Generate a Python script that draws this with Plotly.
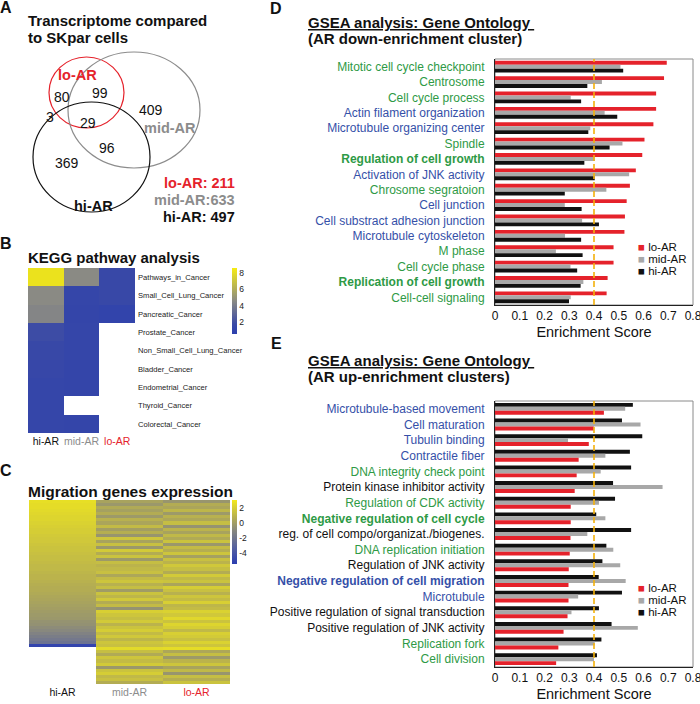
import plotly.graph_objects as go

W, H = 700, 704
FONT = "Liberation Sans, Arial, sans-serif"
RED = "#e5222b"
GRAY = "#a8a8a8"
BLACK = "#111111"
GREEN = "#2e9a45"
BLUE = "#3550a8"
LGRAY = "#8c8c8c"

# ---------------- Panel A: Venn counts ----------------
venn_regions = ["lo_only", "lo_mid", "mid_only", "lo_hi", "lo_mid_hi", "mid_hi", "hi_only"]
venn_counts = [80, 99, 409, 3, 29, 96, 369]
venn_sets = ["lo-AR", "mid-AR", "hi-AR"]

# ---------------- Panel B: KEGG heatmap ----------------
kegg_pathways = ["Pathways_in_Cancer", "Small_Cell_Lung_Cancer", "Pancreatic_Cancer",
                 "Prostate_Cancer", "Non_Small_Cell_Lung_Cancer", "Bladder_Cancer",
                 "Endometrial_Cancer", "Thyroid_Cancer", "Colorectal_Cancer"]
kegg_hi = [8.2, 4.6, 4.4, 1.9, 1.6, 1.5, 1.4, 1.4, 1.4]
kegg_mid = [4.6, 1.4, 1.3, 1.4, 1.4, 1.3, 1.3, None, 1.3]
kegg_lo = [1.6, 1.6, 1.1, None, None, None, None, None, None]
kegg_ticks = [2, 4, 6, 8]

# ---------------- Panel C: migration genes heatmap ----------------
mig_hi = [2.6, 2.5, 2.5, 2.4, 2.3, 2.2, 2.2, 2.1, 2.0, 1.9, 1.9, 1.8,
          1.7, 1.7, 1.6, 1.5, 1.5, 1.4, 1.3, 1.3, 1.2, 1.1, 1.1, 1.0,
          0.9, 0.9, 0.8, 0.7, 0.6, 0.6, 0.5, 0.4, 0.3, 0.2, 0.1, 0.0,
          -0.1, -0.2, -0.3, -0.5, -0.6, -0.8, -1.0, -1.3, -1.6, -1.9, -2.2, -5.0,
          None, None, None, None, None, None, None, None, None, None, None, None]
mig_mid = [0.2, -0.3, 0.5, 0.1, 0.6, -0.2, 0.8, 0.3, 1.2, 0.0, 0.7, -0.4,
           1.6, 0.2, 1.4, -0.3, 1.8, 0.6, 1.5, -0.2, 1.3, 0.9,
           1.1, 1.4, 0.4, 1.2, 1.6, 0.8, 1.3, -0.1, 1.5, 1.0, 1.7, 0.6, 1.2,
           -0.5, 2.0, 1.6, 1.3, 1.8, 0.9, 1.5, 1.9, 1.2, 1.7, 1.0, 1.6, 1.4,
           2.4, 1.3, 0.5, 1.6, 1.2, 1.8, -0.3, 1.5, 1.9, 1.1, 1.4, 0.6]
mig_lo = [-0.4, 0.6, 0.3, 1.0, -0.2, 0.8, 0.4, 1.3, -0.5, 0.9, 0.2, 1.1,
          0.5, 1.5, -0.3, 1.2, 0.7, 1.6, 0.1, 1.4, 0.9, 1.7,
          1.3, 0.6, 1.8, 1.1, 1.5, 0.3, 1.9, 1.4, 0.8, 1.6, 1.2, 2.0, 1.0,
          1.2, 2.1, 1.7, 2.3, 1.5, 2.2, 1.9, 1.1, 2.0, 1.8, 1.4, 2.1, 1.6,
          2.5, 0.4, 1.3, -0.2, 0.9, 1.6, 0.2, 1.1, -0.4, 1.3, 0.7, 1.5]
mig_ticks = [2, 0, -2, -4]

# ---------------- Panel D: GSEA down-enrichment ----------------
d_terms = ["Mitotic cell cycle checkpoint", "Centrosome", "Cell cycle process",
           "Actin filament organization", "Microtubule organizing center", "Spindle",
           "Regulation of cell growth", "Activation of JNK activity", "Chrosome segratoion",
           "Cell junction", "Cell substract adhesion junction", "Microtubule cytoskeleton",
           "M phase", "Cell cycle phase", "Replication of cell growth", "Cell-cell signaling"]
d_lo = [0.694, 0.683, 0.651, 0.651, 0.640, 0.604, 0.595, 0.569, 0.545, 0.532,
        0.525, 0.523, 0.479, 0.479, 0.455, 0.451]
d_mid = [0.507, 0.432, 0.306, 0.443, 0.385, 0.515, 0.403, 0.542, 0.450, 0.282,
         0.352, 0.283, 0.246, 0.305, 0.357, 0.306]
d_hi = [0.518, 0.373, 0.348, 0.494, 0.377, 0.463, 0.361, 0.403, 0.282, 0.350,
        0.420, 0.348, 0.354, 0.332, 0.346, 0.299]
d_colors = ["g", "g", "g", "b", "b", "g", "g", "b", "g", "b", "b", "b", "g", "g", "g", "g"]
d_bold = [0, 0, 0, 0, 0, 0, 1, 0, 0, 0, 0, 0, 0, 0, 1, 0]

# ---------------- Panel E: GSEA up-enrichment ----------------
e_terms = ["Microtubule-based movement", "Cell maturation", "Tubulin binding",
           "Contractile fiber", "DNA integrity check point", "Protein kinase inhibitor activity",
           "Regulation of CDK activity", "Negative regulation of cell cycle",
           "reg. of cell compo/organizat./biogenes.", "DNA replication initiation",
           "Regulation of JNK activity", "Negative regulation of cell migration", "Microtubule",
           "Positive regulation of signal transduction", "Positive regulation of JNK activity",
           "Replication fork", "Cell division"]
e_hi = [0.557, 0.513, 0.595, 0.545, 0.550, 0.477, 0.485, 0.409, 0.550, 0.450,
        0.434, 0.419, 0.513, 0.420, 0.471, 0.430, 0.412]
e_mid = [0.526, 0.588, 0.295, 0.446, 0.427, 0.677, 0.420, 0.446, 0.373, 0.478,
         0.506, 0.528, 0.336, 0.309, 0.577, 0.403, 0.400]
e_lo = [0.440, 0.399, 0.379, 0.338, 0.330, 0.322, 0.306, 0.306, 0.305, 0.302,
        0.298, 0.297, 0.297, 0.293, 0.277, 0.256, 0.247]
e_colors = ["b", "b", "b", "b", "g", "k", "g", "g", "k", "g", "k", "b", "b", "k", "k", "g", "g"]
e_bold = [0, 0, 0, 0, 0, 0, 0, 1, 0, 0, 0, 1, 0, 0, 0, 0, 0]

score_ticks = [0, 0.1, 0.2, 0.3, 0.4, 0.5, 0.6, 0.7, 0.8]
THRESHOLD = 0.4

# =====================================================================
CMAP = {"g": GREEN, "b": BLUE, "k": BLACK}


def styled(terms, cols, bolds):
    out = []
    for t, c, b in zip(terms, cols, bolds):
        txt = f"<b>{t}</b>" if b else t
        out.append(f"<span style='color:{CMAP[c]}'>{txt}</span>")
    return out


def dx(px0, px1):
    return [px0 / W, px1 / W]


def dy(top, bottom):
    return [1 - bottom / H, 1 - top / H]


fig = go.Figure()

# ---- B heatmap ----
group_cols = ["hi-AR", "mid-AR", "lo-AR"]
group_text = ["<span style='color:#111'>hi-AR</span>",
              f"<span style='color:{LGRAY}'>mid-AR</span>",
              f"<span style='color:{RED}'>lo-AR</span>"]
kegg_z = [[h, m, l] for h, m, l in zip(kegg_hi, kegg_mid, kegg_lo)]
fig.add_trace(go.Heatmap(
    z=kegg_z, x=group_cols, y=kegg_pathways, xaxis="x", yaxis="y",
    zmin=0.6, zmax=8.6,
    colorscale=[[0, "#2c3fae"], [0.15, "#3a4aa6"], [0.5, "#8a8a84"], [1, "#f6ec12"]],
    hoverongaps=False,
    colorbar=dict(x=232 / W, xanchor="left", y=1 - 268 / H, yanchor="top",
                  len=66, lenmode="pixels", thickness=5, thicknessmode="pixels",
                  outlinewidth=0, tickvals=kegg_ticks, ticks="", xpad=0, ypad=0,
                  tickfont=dict(size=8.5, family=FONT, color="#222")),
))

# ---- C heatmap ----
mig_rows = list(range(1, len(mig_mid) + 1))
mig_z = [[h, m, l] for h, m, l in zip(mig_hi, mig_mid, mig_lo)]
fig.add_trace(go.Heatmap(
    z=mig_z, x=group_cols, y=mig_rows, xaxis="x2", yaxis="y2",
    zmin=-5.4, zmax=3.0,
    colorscale=[[0, "#2b3db0"], [0.25, "#5560a0"], [0.52, "#87877f"], [0.72, "#b4ad52"], [1, "#f2e91c"]],
    hoverongaps=False,
    colorbar=dict(x=232 / W, xanchor="left", y=1 - 500 / H, yanchor="top",
                  len=64, lenmode="pixels", thickness=5, thicknessmode="pixels",
                  outlinewidth=0, tickvals=mig_ticks, ticktext=[str(v) for v in mig_ticks],
                  ticks="", xpad=0, ypad=0,
                  tickfont=dict(size=8.5, family=FONT, color="#222")),
))

# ---- D bars ----
for vals, col in [(d_lo, RED), (d_mid, GRAY), (d_hi, BLACK)]:
    fig.add_trace(go.Bar(y=d_terms, x=vals, orientation="h", marker=dict(color=col, line=dict(width=0)),
                         xaxis="x3", yaxis="y3", showlegend=False))
# ---- E bars ----
for vals, col in [(e_hi, BLACK), (e_mid, GRAY), (e_lo, RED)]:
    fig.add_trace(go.Bar(y=e_terms, x=vals, orientation="h", marker=dict(color=col, line=dict(width=0)),
                         xaxis="x4", yaxis="y4", showlegend=False))

axfont = dict(family=FONT, color="#111")

bar_x_common = dict(range=[0, 0.8], tickvals=score_ticks,
                    ticktext=[("%g" % v) for v in score_ticks],
                    ticklabeloverflow="allow", automargin=False,
                    showgrid=False, zeroline=False, showline=True, linecolor="#222", linewidth=1,
                    ticks="", tickfont=dict(size=12, **axfont),
                    title=dict(text="Enrichment Score", font=dict(size=14.5, **axfont), standoff=4))
bar_y_common = dict(autorange="reversed", showgrid=False, zeroline=False, showline=True,
                    linecolor="#222", linewidth=1, ticks="", ticklabelstandoff=7, automargin=False,
                    tickfont=dict(size=12, family=FONT))

fig.update_layout(
    width=W, height=H, margin=dict(l=0, r=0, t=0, b=0, autoexpand=False),
    paper_bgcolor="white", plot_bgcolor="rgba(0,0,0,0)",
    font=dict(family=FONT, color="#111"),
    barmode="group", bargap=0.24, bargroupgap=0,
    showlegend=False,
    xaxis=dict(domain=dx(28, 135), anchor="y", tickvals=[0, 1, 2], ticktext=group_text,
               automargin=False,
               ticks="", showgrid=False, zeroline=False, tickfont=dict(size=10.5, family=FONT)),
    yaxis=dict(domain=dy(268, 433), anchor="x", autorange="reversed", side="right",
               automargin=False,
               ticks="", showgrid=False, zeroline=False, ticklabelstandoff=2,
               tickfont=dict(size=7.6, family=FONT, color="#222")),
    xaxis2=dict(domain=dx(29, 230), anchor="y2", tickvals=[0, 1, 2], ticktext=group_text,
                automargin=False,
                ticks="", showgrid=False, zeroline=False, tickfont=dict(size=10.5, family=FONT)),
    yaxis2=dict(domain=dy(500, 684), anchor="x2", autorange="reversed", showticklabels=False,
                automargin=False, ticks="", showgrid=False, zeroline=False),
    xaxis3=dict(domain=dx(495, 693), anchor="y3", **bar_x_common),
    yaxis3=dict(domain=dy(59, 305), anchor="x3", tickvals=d_terms,
                ticktext=styled(d_terms, d_colors, d_bold), **bar_y_common),
    xaxis4=dict(domain=dx(495, 693), anchor="y4", **bar_x_common),
    yaxis4=dict(domain=dy(401, 667), anchor="x4", tickvals=e_terms,
                ticktext=styled(e_terms, e_colors, e_bold), **bar_y_common),
    # canvas axis for the Venn diagram, in pixel units
    xaxis5=dict(domain=[0, 1], anchor="y5", range=[0, W], visible=False, fixedrange=True, automargin=False),
    yaxis5=dict(domain=[0, 1], anchor="x5", range=[H, 0], visible=False, fixedrange=True, automargin=False),
)

# dummy invisible trace to instantiate the canvas axes
fig.add_trace(go.Scatter(x=[None], y=[None], xaxis="x5", yaxis="y5", showlegend=False, hoverinfo="skip"))

shapes = []
# plot frames and threshold lines for D/E
for xa, ya in [("x3", "y3"), ("x4", "y4")]:
    shapes.append(dict(type="rect", xref=f"{xa} domain", yref=f"{ya} domain", x0=0, x1=1, y0=0, y1=1,
                       line=dict(color="#8a8a8a", width=1), layer="below"))
    shapes.append(dict(type="line", xref=xa, yref=f"{ya} domain", x0=THRESHOLD, x1=THRESHOLD, y0=0, y1=1,
                       line=dict(color="#f3b10c", width=1.6, dash="6px,3px"), layer="above"))

# Venn ellipses (canvas pixel units)
venn_shapes = {"lo-AR": (49, 57, 124, 128, RED),
               "mid-AR": (68, 52, 200, 168, LGRAY),
               "hi-AR": (33, 102, 150, 212, BLACK)}
for name in venn_sets:
    x0, y0, x1, y1, c = venn_shapes[name]
    shapes.append(dict(type="circle", xref="x5", yref="y5", x0=x0, y0=y0, x1=x1, y1=y1,
                       line=dict(color=c, width=1.2)))
fig.update_layout(shapes=shapes)

ann = []


def text(x, y, s, size=12, color="#111", bold=False, xanchor="center", **kw):
    ann.append(dict(xref="x5", yref="y5", x=x, y=y, text=(f"<b>{s}</b>" if bold else s),
                    showarrow=False, xanchor=xanchor, yanchor="middle", borderpad=0,
                    font=dict(size=size, color=color, family=FONT, **kw)))


# panel letters
for L, x, y in [("A", 6, 7), ("B", 6, 243), ("C", 6, 470), ("D", 276, 8), ("E", 276, 343)]:
    text(x, y, L, size=16, bold=True)

# Panel A
text(27, 20, "Transcriptome compared", size=15, bold=True, xanchor="left")
text(27, 37, "to SKpar cells", size=15, bold=True, xanchor="left")
venn_pos = {"lo_only": (62, 97), "lo_mid": (100, 93), "mid_only": (151, 110), "lo_hi": (50, 117),
            "lo_mid_hi": (88, 123), "mid_hi": (107, 148), "hi_only": (67, 163)}
for r, c in zip(venn_regions, venn_counts):
    px, py = venn_pos[r]
    text(px, py, str(c), size=14)
text(77, 75, "lo-AR", size=14.5, color=RED, bold=True)
text(170, 128, "mid-AR", size=14.5, color=LGRAY, bold=True)
text(93, 206, "hi-AR", size=14.5, color=BLACK, bold=True)
cnt = dict(zip(venn_regions, venn_counts))
tot_lo = cnt["lo_only"] + cnt["lo_mid"] + cnt["lo_hi"] + cnt["lo_mid_hi"]
tot_mid = cnt["lo_mid"] + cnt["mid_only"] + cnt["lo_mid_hi"] + cnt["mid_hi"]
tot_hi = cnt["lo_hi"] + cnt["lo_mid_hi"] + cnt["mid_hi"] + cnt["hi_only"]
text(236, 183, f"lo-AR: {tot_lo}", size=14.5, color=RED, bold=True, xanchor="right")
text(236, 200, f"mid-AR:{tot_mid}", size=14.5, color=LGRAY, bold=True, xanchor="right")
text(236, 217, f"hi-AR: {tot_hi}", size=14.5, color=BLACK, bold=True, xanchor="right")

# Panel B / C titles
text(27, 257, "KEGG pathway analysis", size=15, bold=True, xanchor="left")
text(27, 491, "Migration genes expression", size=15.5, bold=True, xanchor="left")

# Panel D / E titles
text(307, 22, "GSEA analysis: Gene Ontology ", size=15, bold=True, xanchor="left", lineposition="under")
text(307, 38, "(AR down-enrichment cluster)", size=15, bold=True, xanchor="left")
text(307, 360, "GSEA analysis: Gene Ontology ", size=15, bold=True, xanchor="left", lineposition="under")
text(307, 376, "(AR up-enrichment clusters)", size=15, bold=True, xanchor="left")

# manual legends for D and E
for y0 in (247, 588):
    for i, (name, col) in enumerate([("lo-AR", RED), ("mid-AR", GRAY), ("hi-AR", BLACK)]):
        yy = y0 + i * 12.2
        text(637, yy, f"<span style='color:{col}'>■</span> {name}", size=11.5, xanchor="left")

fig.update_layout(annotations=ann)

fig.write_html("out.html", post_script="document.body.style.margin='0';",
               config={"displayModeBar": False})
